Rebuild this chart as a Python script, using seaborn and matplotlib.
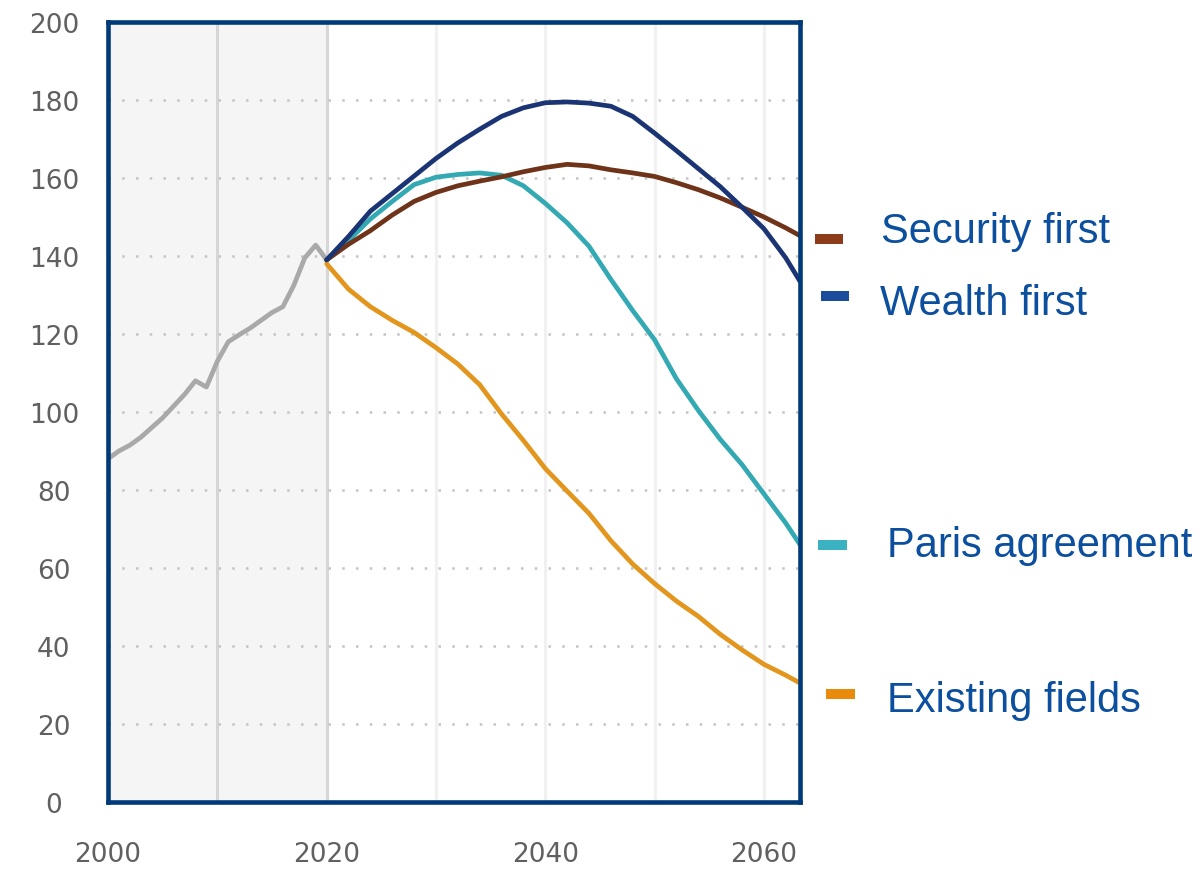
import matplotlib
matplotlib.use("Agg")
import matplotlib.pyplot as plt
from matplotlib.lines import Line2D
import pandas as pd
import seaborn as sns

# Historical production, 2000-2020
hist_years = list(range(2000, 2021))
hist_values = [88, 90, 91.5, 93.5, 96, 98.5, 101.5, 104.5, 108, 106.4, 113,
               118, 119.8, 121.5, 123.5, 125.5, 127, 132.5, 139.5, 142.8, 139]

# Scenario projections, 2020 onwards
scen_years = [2020, 2022, 2024, 2026, 2028, 2030, 2032, 2034, 2036, 2038, 2040,
              2042, 2044, 2046, 2048, 2050, 2052, 2054, 2056, 2058, 2060, 2062, 2063.3]
security_first = [139, 143, 146.5, 150.5, 154, 156.3, 158, 159.2, 160.3, 161.6, 162.7,
                  163.5, 163.1, 162.1, 161.3, 160.4, 158.8, 157, 154.9, 152.5, 150, 147.2, 145.2]
wealth_first = [139, 145, 151.5, 156, 160.5, 165, 169, 172.5, 175.8, 178, 179.3,
                179.5, 179.2, 178.4, 175.8, 171.5, 167, 162.4, 157.8, 152.5, 147, 139.5, 133.5]
paris_agreement = [139, 144, 149.5, 154, 158.3, 160.2, 160.9, 161.3, 160.7, 158, 153.5,
                   148.5, 142.5, 134, 126, 118.5, 108.5, 100.4, 93, 86.5, 79, 71.5, 66]
existing_fields = [138, 131.5, 127, 123.5, 120.4, 116.5, 112.3, 107, 99.5, 92.7, 85.5,
                   79.7, 74, 67, 61, 56, 51.5, 47.6, 43, 39, 35.3, 32.5, 30.5]

scenario_names = ["Existing fields", "Paris agreement", "Security first", "Wealth first"]
scenario_values = [existing_fields, paris_agreement, security_first, wealth_first]
line_colors = {"Security first": "#6e3318", "Wealth first": "#1b3574",
               "Paris agreement": "#33a9b3", "Existing fields": "#e3961e"}
legend_colors = {"Security first": "#8c3c19", "Wealth first": "#1a4c9c",
                 "Paris agreement": "#3ab2c2", "Existing fields": "#ea8a0c"}

y_ticks = list(range(0, 201, 20))
x_ticks = [2000, 2020, 2040, 2060]

frames = [pd.DataFrame({"year": scen_years, "value": vals, "scenario": name})
          for name, vals in zip(scenario_names, scenario_values)]
scen_df = pd.concat(frames, ignore_index=True)
hist_df = pd.DataFrame({"year": hist_years, "value": hist_values})

sns.set_theme(style="white")
plt.rcParams["font.family"] = ["DejaVu Sans"]

fig = plt.figure(figsize=(12.04, 8.70), dpi=100)
ax = fig.add_axes([108 / 1204, 67 / 870, 692 / 1204, 780 / 870])

# Historical period shading and decade lines
ax.axvspan(2000, 2020, color="#f5f5f5", zorder=0, lw=0)
for yr in [2010, 2020]:
    ax.axvline(yr, color="#d6d6d6", lw=2.2, zorder=0.5)
for yr in [2030, 2040, 2050, 2060]:
    ax.axvline(yr, color="#f1f1f1", lw=2.2, zorder=0.5)
for v in y_ticks[1:-1]:
    ax.axhline(v, color="#c4c4c4", lw=1.8, ls=(0, (1, 4.5)), zorder=0.6)

sns.lineplot(data=hist_df, x="year", y="value", color="#a9a9a9", lw=3.4,
             ax=ax, zorder=2)
sns.lineplot(data=scen_df, x="year", y="value", hue="scenario",
             hue_order=scenario_names, palette=line_colors, lw=3.4,
             ax=ax, legend=False, zorder=3)

ax.set_xlim(2000, 2063.3)
ax.set_ylim(0, 200)
ax.set_xticks(x_ticks)
ax.set_yticks(y_ticks)
ax.set_xlabel("")
ax.set_ylabel("")
ax.tick_params(axis="both", length=0, labelsize=19, labelcolor="#606060")
ax.tick_params(axis="x", pad=28)
ax.tick_params(axis="y", pad=39)
for lab in ax.get_yticklabels():
    lab.set_horizontalalignment("center")

for side in ["left", "right", "top", "bottom"]:
    ax.spines[side].set_visible(True)
    ax.spines[side].set_color("#003a78")
    ax.spines[side].set_linewidth(3.3)
    ax.spines[side].set_zorder(5)

# Scenario labels to the right of the plot
label_layout = [
    ("Security first", 881, 243, 815, 843, 240),
    ("Wealth first", 880, 315, 821, 849, 297),
    ("Paris agreement", 887, 557, 818, 847, 546),
    ("Existing fields", 887, 712, 826, 855, 695),
]
W, H = 1204, 870
for name, tx, ty, x0, x1, dy in label_layout:
    fig.text(tx / W, 1 - ty / H, name, fontsize=30, color="#0b4f9e",
             family=["Liberation Sans", "DejaVu Sans"], va="baseline", ha="left")
    fig.add_artist(Line2D([x0 / W, x1 / W], [1 - dy / H, 1 - dy / H],
                          color=legend_colors[name], lw=7.2,
                          solid_capstyle="butt", transform=fig.transFigure))

fig.savefig("out.png", dpi=100)
